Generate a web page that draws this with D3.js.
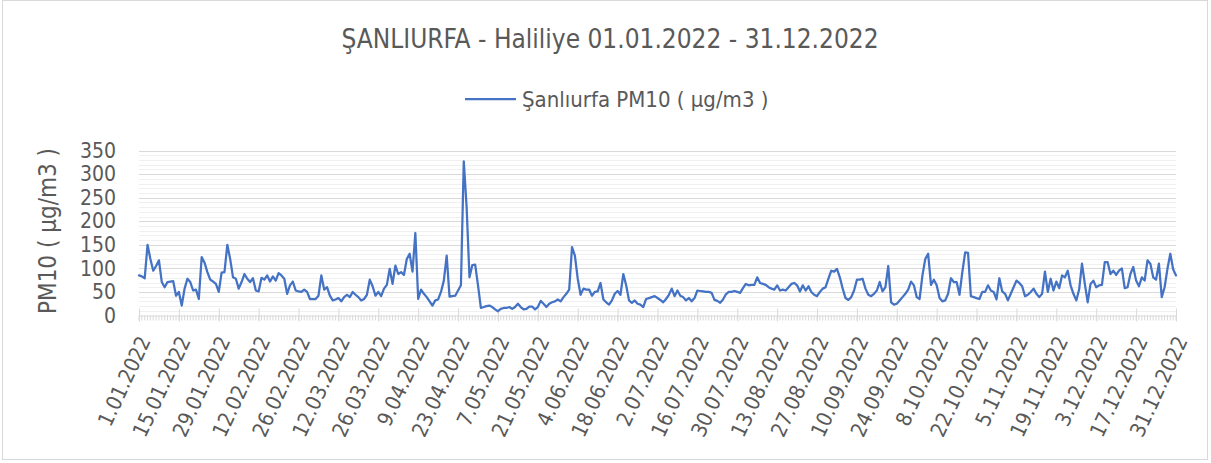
<!DOCTYPE html>
<html>
<head>
<meta charset="utf-8">
<script src="https://cdn.jsdelivr.net/npm/d3@7"></script>
<style>
  html, body { margin: 0; padding: 0; background: #ffffff; }
  svg text { font-family: "DejaVu Sans Condensed", "DejaVu Sans", sans-serif; font-stretch: condensed; fill: #595959; }
</style>
</head>
<body>
<script>
// ---- Data (daily PM10, µg/m3) ----
const jan = [85,83,79,150,120,95,105,117,71,60,71,72,73,42,50,21,57,78,71,53,55,35,124,112,92,76,72,67,50,91,92];
const feb = [150,120,81,78,57,71,88,78,71,79,53,51,80,76,85,72,83,74,90,85,78,46,64,72,53,51,50,55];
const mar = [50,35,35,35,42,85,55,60,42,32,34,37,30,39,44,39,50,44,39,32,35,44,76,62,42,50,41,57,65,99,67];
const apr = [106,88,92,86,120,131,93,175,35,55,46,39,30,21,32,34,50,74,127,40,41,42,53,64,327,230,81,107,108,64];
const may = [16,18,20,21,18,13,9,14,16,16,18,14,18,25,18,13,14,19,19,13,18,31,25,18,25,28,30,34,30,39,46];
const jun = [55,145,127,78,44,57,55,55,42,50,51,69,34,28,23,32,46,52,44,88,64,32,27,32,25,23,18,35,37,39];
const jul = [41,37,33,28,35,44,57,41,53,42,39,32,37,30,37,53,52,51,50,50,48,33,31,27,34,45,50,50,52,50,48];
const aug = [58,67,64,65,65,81,69,67,65,60,57,55,64,53,55,53,60,67,69,64,51,64,53,62,50,44,41,50,57,60,78];
const sep = [95,93,99,81,57,37,33,39,53,76,76,78,57,44,41,46,53,71,51,60,105,28,23,25,32,39,46,55,72,64];
const oct = [39,35,85,120,131,65,76,64,37,30,32,46,79,71,71,44,92,134,133,41,39,37,35,50,50,64,53,50,34,79,51];
const nov = [46,32,46,60,74,69,62,41,44,50,57,46,39,46,93,50,78,53,72,58,85,81,95,64,46,32,55,110,67,28];
const dec = [67,74,60,64,65,113,113,88,95,86,95,100,58,60,88,103,74,62,81,74,117,110,81,76,110,39,60,99,131,98,85];

const tickLabels = ["1.01.2022","15.01.2022","29.01.2022","12.02.2022","26.02.2022","12.03.2022","26.03.2022",
  "9.04.2022","23.04.2022","7.05.2022","21.05.2022","4.06.2022","18.06.2022","2.07.2022","16.07.2022",
  "30.07.2022","13.08.2022","27.08.2022","10.09.2022","24.09.2022","8.10.2022","22.10.2022","5.11.2022",
  "19.11.2022","3.12.2022","17.12.2022","31.12.2022"];
const yTicks = [0,50,100,150,200,250,300,350];

const title = "ŞANLIURFA - Haliliye 01.01.2022 - 31.12.2022";
const seriesName = "Şanlıurfa PM10 ( µg/m3 )";
const yTitle = "PM10 ( µg/m3 )";

(function () {
const values = [].concat(jan, feb, mar, apr, may, jun, jul, aug, sep, oct, nov, dec);
const dates = d3.timeDay.range(new Date(2022,0,1), new Date(2023,0,1));
const data = dates.map((d,i) => ({date: d, value: values[i]}));

const W = 1211, H = 463;
const pLeft = 139, pRight = 1176, pTop = 150.5, pBottom = 315.5;
const FONT = '"DejaVu Sans Condensed","DejaVu Sans",sans-serif';

const svg = d3.select("body").append("svg").attr("width", W).attr("height", H);
svg.append("rect").attr("x",0).attr("y",0).attr("width",W).attr("height",H).attr("fill","#fff");
svg.append("rect").attr("x",2.5).attr("y",0.5).attr("width",1205).attr("height",459)
  .attr("fill","none").attr("stroke","#d9d9d9").attr("stroke-width",1);

const x = d3.scaleTime().domain([dates[0], dates[dates.length-1]]).range([pLeft, pRight]);
const y = d3.scaleLinear().domain([0,350]).range([pBottom, pTop]);

// minor grid
svg.append("g").selectAll("line").data(d3.range(10,351,10).filter(v => v % 50 !== 0)).join("line")
  .attr("x1", pLeft).attr("x2", pRight)
  .attr("y1", d => Math.round(y(d))+0.5).attr("y2", d => Math.round(y(d))+0.5)
  .attr("stroke","#f0f0f0").attr("stroke-width",1);
// major grid
svg.append("g").selectAll("line").data(yTicks.filter(v => v > 0)).join("line")
  .attr("x1", pLeft).attr("x2", pRight)
  .attr("y1", d => Math.round(y(d))+0.5).attr("y2", d => Math.round(y(d))+0.5)
  .attr("stroke","#d9d9d9").attr("stroke-width",1);

// y axis labels
const yAxis = d3.axisLeft(y).tickValues(yTicks).tickSize(0).tickPadding(0);
const gy = svg.append("g").attr("transform", `translate(${pLeft-23},0)`).call(yAxis);
gy.select(".domain").remove();
gy.selectAll("text").attr("font-size", 21).attr("fill","#595959").style("font-family", FONT);

// x axis minor ticks (daily)
svg.append("g").selectAll("line").data(dates).join("line")
  .attr("x1", d => x(d)).attr("x2", d => x(d))
  .attr("y1", pBottom).attr("y2", pBottom+5)
  .attr("stroke","#d9d9d9").attr("stroke-width",1);
// x axis with major ticks
const tickDates = tickLabels.map((t,i) => dates[i*14]);
const xAxis = d3.axisBottom(x).tickValues(tickDates).tickSize(7)
  .tickFormat((d,i) => tickLabels[i]);
const gx = svg.append("g").attr("transform", `translate(0,${pBottom})`).call(xAxis);
gx.select(".domain").attr("stroke","#d9d9d9").attr("d", `M${pLeft},0.5H${pRight}`);
gx.selectAll(".tick line").attr("stroke","#d9d9d9").attr("y1",-7).attr("y2",6);
gx.selectAll(".tick text")
  .attr("font-size", 21).attr("fill","#595959").style("font-family", FONT)
  .attr("text-anchor","end")
  .attr("dy","0.35em")
  .attr("transform","translate(5,22) rotate(-65)")
  .attr("x",0).attr("y",0);

// line
const line = d3.line().x(d => x(d.date)).y(d => y(d.value));
svg.append("path").datum(data).attr("d", line)
  .attr("fill","none").attr("stroke","#4472c4").attr("stroke-width",2.25)
  .attr("stroke-linejoin","round").attr("stroke-linecap","round");

// y title
svg.append("text").attr("transform","translate(48,231) rotate(-90)")
  .attr("text-anchor","middle").attr("dy","0.35em").attr("font-size",24).text(yTitle);

// title
svg.append("text").attr("x",610).attr("y",48).attr("text-anchor","middle")
  .attr("font-size",26).text(title);

// legend
svg.append("line").attr("x1",465).attr("x2",516).attr("y1",99).attr("y2",99)
  .attr("stroke","#4472c4").attr("stroke-width",2.25);
svg.append("text").attr("x",522).attr("y",99).attr("dy","0.35em")
  .attr("font-size",22).text(seriesName);
})();
</script>
</body>
</html>
